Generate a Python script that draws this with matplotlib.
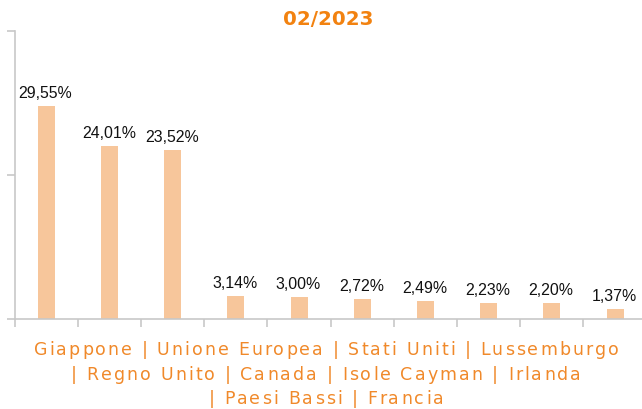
import numpy as np
import matplotlib
matplotlib.use('Agg')
import matplotlib.pyplot as plt
from matplotlib.font_manager import FontProperties, findfont, get_font

title = '02/2023'
categories = ['Giappone', 'Unione Europea', 'Stati Uniti', 'Lussemburgo',
              'Regno Unito', 'Canada', 'Isole Cayman', 'Irlanda',
              'Paesi Bassi', 'Francia']
shares = [29.55, 24.01, 23.52, 3.14, 3.00, 2.72, 2.49, 2.23, 2.20, 1.37]

bar_col = '#f7c69b'
orange = '#f28210'
axis_col = '#c8c8c8'

W, H, DPI = 642, 409, 100
fig = plt.figure(figsize=(W / DPI, H / DPI), dpi=DPI)
ax = fig.add_axes([0.0229, 0.22, 0.9844, 0.704])

x = np.arange(len(shares))
ax.bar(x, shares, width=0.27, color=bar_col, zorder=2)
for xi, v in zip(x, shares):
    lab = ('%.2f%%' % v).replace('.', ',')
    ax.annotate(lab, (xi, v), xytext=(-0.5, 5.8), textcoords='offset points',
                ha='center', va='baseline', fontsize=11.4,
                family=['Liberation Sans', 'DejaVu Sans'], color='#111111')

ax.set_xlim(-0.5, len(shares) - 0.5)
ax.set_ylim(0, 40)
ax.set_yticks([0, 20, 40])
ax.set_xticks(np.arange(len(shares) + 1) - 0.5)
ax.set_yticklabels([])
ax.set_xticklabels([])
ax.tick_params(axis='both', direction='out', length=6, width=1.2, color=axis_col)
for s in ['top', 'right']:
    ax.spines[s].set_visible(False)
for s in ['left', 'bottom']:
    ax.spines[s].set_color(axis_col)
    ax.spines[s].set_linewidth(1.2)

fig.text(0.511, 0.952, title, ha='center', va='center', fontsize=14.3,
         fontweight='bold', color=orange, family='DejaVu Sans')

# category names wrapped into three lines, drawn with extra letter spacing
lines = [' | '.join(categories[0:4]),
         '| ' + ' | '.join(categories[4:8]),
         '| ' + ' | '.join(categories[8:])]
fsize = 12.5
spacing = 2.1  # px between letters
ft = get_font(findfont(FontProperties(family='DejaVu Sans')))
ft.set_size(fsize, DPI)

def advance(c):
    return ft.load_char(ord(c)).linearHoriAdvance / 65536

centre_x = 326
baselines = [355, 379.5, 404]
for line, yb in zip(lines, baselines):
    advs = [advance(c) for c in line]
    total = sum(advs) + spacing * (len(line) - 1)
    px = centre_x - total / 2
    for c, a in zip(line, advs):
        if c != ' ':
            fig.text(px / W, (H - yb) / H, c, ha='left', va='baseline',
                     fontsize=fsize, color='#f0892a', family='DejaVu Sans')
        px += a + spacing

plt.savefig('out.png', dpi=DPI)
